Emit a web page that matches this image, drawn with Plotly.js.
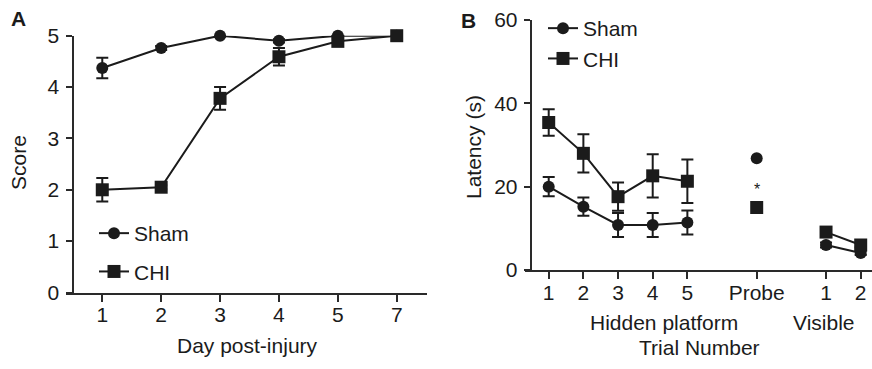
<!DOCTYPE html>
<html>
<head>
<meta charset="utf-8">
<script src="https://cdn.plot.ly/plotly-3.0.1.min.js"></script>
<style>html,body{margin:0;padding:0;background:#fff;}#chart{width:872px;height:369px;}</style>
</head>
<body>
<div id="chart"></div>
<script>
// ---- Panel A data: neurological score by day post-injury ----
const daysA = ['1', '2', '3', '4', '5', '7'];
const shamA = [4.37, 4.76, 5.0, 4.9, 5.0, 5.0];
const shamAErr = [0.2, 0.04, 0.02, 0.03, 0.02, 0.0];
const chiA = [2.0, 2.05, 3.78, 4.59, 4.89, 5.0];
const chiAErr = [0.23, 0.04, 0.22, 0.17, 0.05, 0.0];

// ---- Panel B data: Morris water maze latency ----
const hiddenLabels = ['1', '2', '3', '4', '5'];
const probeLabels = ['Probe'];
const visibleLabels = ['1', '2'];
const shamHidden = [20.0, 15.2, 10.8, 10.8, 11.4];
const shamHiddenErr = [2.3, 2.2, 2.9, 2.9, 2.9];
const chiHidden = [35.4, 28.0, 17.6, 22.6, 21.3];
const chiHiddenErr = [3.2, 4.6, 3.4, 5.2, 5.2];
const shamProbe = [26.8];
const chiProbe = [15.0];
const shamVisible = [6.0, 4.1];
const shamVisibleErr = [0.6, 0.5];
const chiVisible = [9.1, 6.0];
const chiVisibleErr = [1.2, 0.6];
const starLabel = '*';
const starValue = 19.4;

// ---- layout helpers ----
const W = 872, H = 369;
const px = v => v / W;
const py = v => 1 - v / H;
const INK = '#1b1b1b';
const AX = '#2a2a2a';
const FONT = 'Liberation Sans, Arial, Helvetica, sans-serif';

// category positions (groups separated by one empty slot)
const posA = daysA.map((d, i) => i + 1);
let p = 1;
const hiddenPos = hiddenLabels.map(() => p++); p++;
const probePos = probeLabels.map(() => p++); p++;
const visiblePos = visibleLabels.map(() => p++);

function errs(arr) {
  return {type: 'data', array: arr, visible: true, color: INK, thickness: 2, width: 6};
}
function series(x, y, e, sym, size, name, xa, ya, legend, show, group, mode) {
  const t = {
    x: x, y: y, type: 'scatter', mode: mode || 'lines+markers', name: name,
    xaxis: xa, yaxis: ya, cliponaxis: false,
    line: {color: INK, width: 2},
    marker: {symbol: sym, size: size, color: INK},
    showlegend: show, legend: legend, legendgroup: group
  };
  if (e) t.error_y = errs(e);
  return t;
}

const traces = [
  series(posA, shamA, shamAErr, 'circle', 12, 'Sham', 'x', 'y', 'legend', true, 'a1'),
  series(posA, chiA, chiAErr, 'square', 13, 'CHI', 'x', 'y', 'legend', true, 'a2'),
  series(hiddenPos, shamHidden, shamHiddenErr, 'circle', 12, 'Sham', 'x2', 'y2', 'legend2', true, 'b1'),
  series(hiddenPos, chiHidden, chiHiddenErr, 'square', 13, 'CHI', 'x2', 'y2', 'legend2', true, 'b2'),
  series(probePos, shamProbe, null, 'circle', 12, 'Sham', 'x2', 'y2', 'legend2', false, 'b1', 'markers'),
  series(probePos, chiProbe, null, 'square', 13, 'CHI', 'x2', 'y2', 'legend2', false, 'b2', 'markers'),
  series(visiblePos, shamVisible, shamVisibleErr, 'circle', 12, 'Sham', 'x2', 'y2', 'legend2', false, 'b1'),
  series(visiblePos, chiVisible, chiVisibleErr, 'square', 13, 'CHI', 'x2', 'y2', 'legend2', false, 'b2')
];

const tickFont = {family: FONT, size: 21, color: INK};
const baseAxis = {
  showgrid: false, zeroline: false, showline: true, linecolor: AX, linewidth: 2,
  ticks: 'outside', tickcolor: AX, tickwidth: 2, ticklen: 7, tickfont: tickFont,
  fixedrange: true
};

function ann(text, x, y, size, extra) {
  return Object.assign({
    text: text, xref: 'paper', yref: 'paper', x: px(x), y: py(y),
    xanchor: 'center', yanchor: 'middle', showarrow: false,
    font: {family: FONT, size: size, color: INK}
  }, extra || {});
}

const layout = {
  width: W, height: H,
  margin: {l: 0, r: 0, t: 0, b: 0},
  paper_bgcolor: '#ffffff', plot_bgcolor: 'rgba(0,0,0,0)',
  showlegend: true,
  xaxis: Object.assign({}, baseAxis, {
    domain: [px(66), px(427)], range: [0.384, 6.514], anchor: 'y',
    tickmode: 'array', tickvals: posA, ticktext: daysA, ticklabelstandoff: -5
  }),
  yaxis: Object.assign({}, baseAxis, {
    domain: [py(292.5), py(35.7)], range: [0, 5], anchor: 'free', position: px(72.5),
    tickmode: 'linear', tick0: 0, dtick: 1, ticklen: 6, ticklabelstandoff: 2
  }),
  xaxis2: Object.assign({}, baseAxis, {
    domain: [px(525), 1], range: [0.316, 10.326], anchor: 'y2',
    tickmode: 'array',
    tickvals: hiddenPos.concat(probePos, visiblePos),
    ticktext: hiddenLabels.concat(probeLabels, visibleLabels),
    ticklabelstandoff: -4
  }),
  yaxis2: Object.assign({}, baseAxis, {
    domain: [py(270), py(20)], range: [0, 60], anchor: 'free', position: px(530.7),
    tickmode: 'linear', tick0: 0, dtick: 20, ticklen: 6, ticklabelstandoff: 2
  }),
  legend: {
    x: px(94), y: py(213), xanchor: 'left', yanchor: 'top',
    bgcolor: 'rgba(0,0,0,0)', borderwidth: 0,
    font: {family: FONT, size: 21, color: INK},
    traceorder: 'grouped', tracegroupgap: 8, itemsizing: 'trace'
  },
  legend2: {
    x: px(543), y: py(8), xanchor: 'left', yanchor: 'top',
    bgcolor: 'rgba(0,0,0,0)', borderwidth: 0,
    font: {family: FONT, size: 21, color: INK},
    traceorder: 'grouped', tracegroupgap: 0, itemsizing: 'trace'
  },
  annotations: [
    ann('<b>A</b>', 18, 18, 21),
    ann('<b>B</b>', 468, 21, 21),
    ann('Score', 18, 163, 21, {textangle: -90}),
    ann('Day post-injury', 247, 345, 21),
    ann('Latency (s)', 473, 147, 21, {textangle: -90}),
    ann('Hidden platform', 664, 322, 21),
    ann('Visible', 823, 322, 21),
    ann('Trial Number', 699, 347, 21),
    {text: starLabel, xref: 'x2', yref: 'y2', x: probePos[0], y: starValue,
     showarrow: false, xanchor: 'center', yanchor: 'middle',
     font: {family: FONT, size: 16, color: INK}}
  ]
};

Plotly.newPlot('chart', traces, layout, {displayModeBar: false, staticPlot: true});
</script>
</body>
</html>
